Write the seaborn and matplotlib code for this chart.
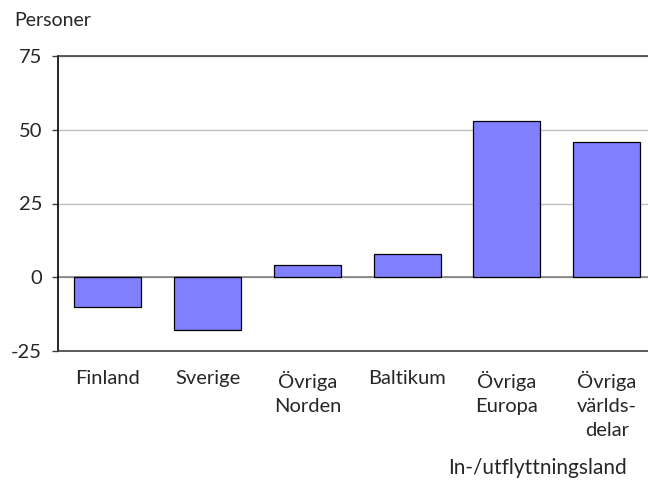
import pandas as pd
import matplotlib
matplotlib.use("Agg")
import matplotlib.pyplot as plt
import seaborn as sns

# Data
categories = ["Finland", "Sverige", "Övriga\nNorden", "Baltikum", "Övriga\nEuropa", "Övriga\nvärlds-\ndelar"]
values = [-10, -18, 4, 8, 53, 46]
yticks = [-25, 0, 25, 50, 75]

df = pd.DataFrame({"land": categories, "personer": values})

sns.set_style("white")
plt.rcParams["font.family"] = ["Lato", "DejaVu Sans"]
plt.rcParams["axes.unicode_minus"] = False

fig = plt.figure(figsize=(6.48, 4.83), dpi=100)
ax = fig.add_axes([58 / 648, 132 / 483, 598.5 / 648, 295 / 483])

ax.set_axisbelow(True)
ax.yaxis.grid(True, color="#c0c0c0", linewidth=1)
ax.axhline(0, color="#808080", linewidth=1.2, zorder=1)

sns.barplot(data=df, x="land", y="personer", order=categories, color="#8080ff",
            saturation=1, width=0.67, edgecolor="black", linewidth=0.9, ax=ax, zorder=2)

ax.set_xlim(-0.5, 5.5)
ax.set_ylim(-25, 75)
ax.set_yticks(yticks)
ax.set_xlabel("")
ax.set_ylabel("")

ax.spines["right"].set_visible(False)
ax.spines["left"].set_color("black")
ax.spines["top"].set_color("#404040")
ax.spines["bottom"].set_color("#404040")
for s in ax.spines.values():
    s.set_linewidth(1.2)

ax.tick_params(axis="y", length=4.5, width=1, color="#404040", pad=7, labelsize=14.5, left=True)
ax.tick_params(axis="x", length=0, pad=14, labelsize=14.5)
for lbl in ax.get_xticklabels():
    lbl.set_linespacing(1.5)

fig.text(14 / 648, 1 - 20 / 483, "Personer", fontsize=14, va="center", ha="left")
fig.text(537 / 648, 1 - 468 / 483, "In-/utflyttningsland", fontsize=15, va="center", ha="center")

fig.savefig("out.png", dpi=100)
plt.close(fig)
